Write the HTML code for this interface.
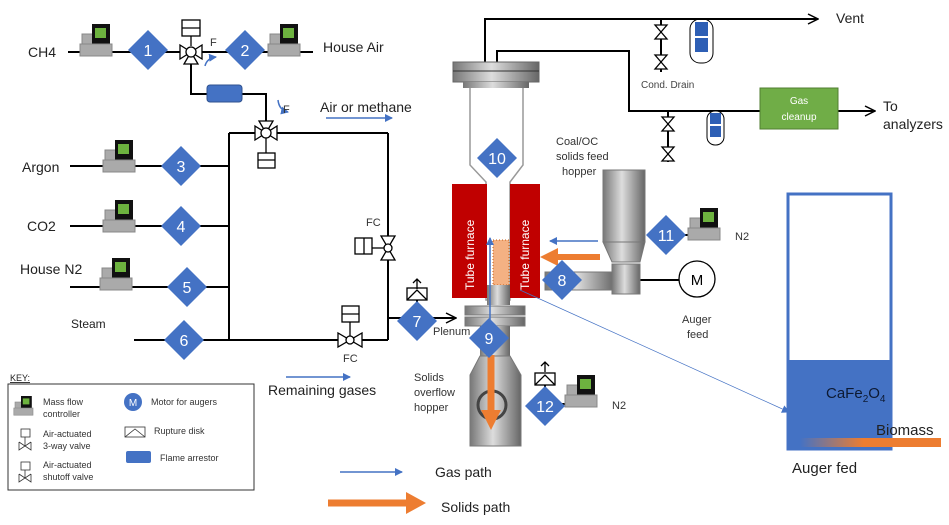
<!DOCTYPE html>
<html><head><meta charset="utf-8"><style>
body{margin:0;background:#fff;width:949px;height:525px;overflow:hidden}
svg{display:block;font-family:"Liberation Sans",sans-serif}
.t{font-size:14px;fill:#222}
.s{font-size:11px;fill:#333}
.dn{font-size:16px;fill:#fff;text-anchor:middle}
</style></head><body>
<svg width="949" height="525" viewBox="0 0 949 525">
<defs>
<g id="mfc"><rect x="0" y="10" width="16" height="12" fill="#aaa" stroke="#888"/><rect x="10" y="0" width="18" height="21" fill="#111"/><rect x="13" y="4" width="11" height="10" fill="#6db33f"/><rect x="-2" y="20" width="32" height="12" fill="#aaa" stroke="#888"/></g>
<g id="dia"><polygon points="0,-20 20,0 0,20 -20,0" fill="#4472c4"/></g>
<linearGradient id="steel" x1="0" x2="1"><stop offset="0" stop-color="#777"/><stop offset="0.45" stop-color="#ddd"/><stop offset="1" stop-color="#666"/></linearGradient>
<linearGradient id="bio" x1="0" x2="1"><stop offset="0" stop-color="#4472c4"/><stop offset="0.45" stop-color="#ed7d31"/><stop offset="1" stop-color="#ed7d31"/></linearGradient>
<marker id="ab" markerWidth="8" markerHeight="8" refX="7" refY="4" orient="auto" markerUnits="userSpaceOnUse"><path d="M0,0 L8,4 L0,8 z" fill="#4472c4"/></marker>
<marker id="ak" markerWidth="12" markerHeight="12" refX="11" refY="6" orient="auto" markerUnits="userSpaceOnUse"><path d="M1,1 L11,6 L1,11" fill="none" stroke="#000" stroke-width="1.5"/></marker>
</defs>
<g stroke="#000" stroke-width="2" fill="none">
<!-- row1 -->
<line x1="68" y1="52" x2="313" y2="52"/>
<polyline points="191,52 191,94 266,94 266,133"/>
<line x1="229" y1="133" x2="388" y2="133"/>
<line x1="229" y1="133" x2="229" y2="340"/>
<line x1="388" y1="133" x2="388" y2="340"/>
<line x1="70" y1="166" x2="229" y2="166"/>
<line x1="70" y1="226" x2="229" y2="226"/>
<line x1="70" y1="287" x2="229" y2="287"/>
<line x1="134" y1="340" x2="388" y2="340"/>
<line x1="388" y1="318" x2="456" y2="318" marker-end="url(#ak)"/>
<!-- outlets -->
<polyline points="485,118 485,19 818,19" marker-end="url(#ak)"/>
<polyline points="497,118 497,51 629,51 629,111 875,111" marker-end="url(#ak)"/>
<line x1="661" y1="19" x2="661" y2="72"/>
<line x1="668" y1="111" x2="668" y2="162"/>
<line x1="640" y1="280" x2="680" y2="280"/>
<line x1="528" y1="404" x2="568" y2="404"/>
<line x1="690" y1="235" x2="655" y2="235"/>
<line x1="545" y1="385" x2="545" y2="404"/>
<line x1="417" y1="300" x2="417" y2="318"/>
</g>
<!-- valves -->
<g stroke="#000" stroke-width="1.3" fill="#fff">
<polygon points="180,45 180,59 191,52"/><polygon points="202,45 202,59 191,52"/><polygon points="184,64 198,64 191,52"/><circle cx="191" cy="52" r="5"/>
<rect x="182" y="20" width="18" height="16"/><line x1="182" y1="28" x2="200" y2="28"/><line x1="191" y1="36" x2="191" y2="46"/>
<polygon points="255,126 255,140 266,133"/><polygon points="277,126 277,140 266,133"/><polygon points="259,121 273,121 266,133"/><circle cx="266" cy="133" r="5"/>
<rect x="258" y="153" width="17" height="15"/><line x1="258" y1="160" x2="275" y2="160"/><line x1="266" y1="138" x2="266" y2="153"/>
<polygon points="381,236 395,236 388,248"/><polygon points="381,260 395,260 388,248"/><circle cx="388" cy="248" r="4"/>
<rect x="355" y="238" width="17" height="16"/><line x1="364" y1="238" x2="364" y2="254"/><line x1="372" y1="248" x2="384" y2="248"/>
<polygon points="338,333 338,347 350,340"/><polygon points="362,333 362,347 350,340"/><circle cx="350" cy="340" r="4"/>
<rect x="342" y="306" width="17" height="16"/><line x1="342" y1="314" x2="359" y2="314"/><line x1="350" y1="322" x2="350" y2="336"/>
<polygon points="655,25 667,25 661,32 655,39 667,39 661,32"/><polygon points="655,55 667,55 661,62 655,69 667,69 661,62"/>
<polygon points="662,117 674,117 668,124 662,131 674,131 668,124"/><polygon points="662,147 674,147 668,154 662,161 674,161 668,154"/>
<rect x="407" y="288" width="20" height="12"/><polyline points="407,300 417,290 427,300" fill="none"/>
<rect x="535" y="373" width="20" height="12"/><polyline points="535,385 545,375 555,385" fill="none"/>
</g>
<g stroke="#000" stroke-width="1.3" fill="none"><path d="M417,289 V279 M413,283 L417,279 L421,283"/><path d="M545,372 V362 M541,366 L545,362 L549,366"/></g>
<rect x="207" y="85" width="35" height="17" rx="3" fill="#4472c4" stroke="#2f528f"/>
<path d="M205,66 Q207,58 216,57" stroke="#4472c4" fill="none" stroke-width="1.5" marker-end="url(#ab)"/>
<path d="M278,100 Q279,110 288,112" stroke="#4472c4" fill="none" stroke-width="1.5" marker-end="url(#ab)"/>
<text x="210" y="46" class="s">F</text><text x="283" y="113" class="s">F</text>
<text x="366" y="226" class="s">FC</text><text x="343" y="362" class="s">FC</text>
<!-- MFCs -->
<use href="#mfc" x="82" y="24"/><use href="#mfc" x="270" y="24"/><use href="#mfc" x="105" y="140"/><use href="#mfc" x="105" y="200"/><use href="#mfc" x="102" y="258"/><use href="#mfc" x="690" y="208"/><use href="#mfc" x="567" y="375"/>
<!-- reactor -->
<rect x="453" y="62" width="86" height="20" fill="url(#steel)" stroke="#666"/><line x1="453" y1="71" x2="539" y2="71" stroke="#333"/>
<rect x="463" y="82" width="66" height="6" fill="url(#steel)"/>
<path d="M470,88 V165 L486,182 V300 H510 V182 L523,165 V88" fill="#fff" stroke="#999" stroke-width="1.5"/>
<rect x="452" y="184" width="35" height="114" fill="#c00000"/><rect x="510" y="184" width="30" height="114" fill="#c00000"/>
<text transform="translate(474,290) rotate(-90)" font-size="12" fill="#fff">Tube furnace</text>
<text transform="translate(529,290) rotate(-90)" font-size="12" fill="#fff">Tube furnace</text>
<rect x="493" y="240" width="16" height="45" fill="#f4b183" stroke="#c55a11" stroke-dasharray="1,2"/>
<rect x="487" y="285" width="23" height="20" fill="url(#steel)"/>
<rect x="465" y="306" width="60" height="9" fill="url(#steel)" stroke="#777"/><rect x="465" y="317" width="60" height="9" fill="url(#steel)" stroke="#777"/>
<rect x="480" y="326" width="30" height="30" fill="url(#steel)"/>
<path d="M480,356 L470,375 V446 H521 V375 L510,356 Z" fill="url(#steel)" stroke="#777"/>
<circle cx="492" cy="405" r="14" fill="none" stroke="#444" stroke-width="3"/>
<line x1="490" y1="345" x2="490" y2="238" stroke="#4472c4" stroke-width="1.5" marker-end="url(#ab)"/>
<line x1="491" y1="355" x2="491" y2="412" stroke="#ed7d31" stroke-width="7"/><polygon points="481,410 501,410 491,430" fill="#ed7d31"/>
<!-- feed -->
<rect x="603" y="170" width="42" height="72" fill="url(#steel)" stroke="#777"/>
<path d="M603,242 H645 L640,262 H612 Z" fill="url(#steel)" stroke="#777"/>
<rect x="545" y="272" width="70" height="18" fill="url(#steel)" stroke="#777"/>
<rect x="612" y="264" width="28" height="30" fill="url(#steel)" stroke="#777"/>
<circle cx="697" cy="279" r="18" fill="#fff" stroke="#000" stroke-width="1.3"/><text x="697" y="285" font-size="15" text-anchor="middle">M</text>
<line x1="598" y1="241" x2="550" y2="241" stroke="#4472c4" stroke-width="1.5" marker-end="url(#ab)"/>
<line x1="600" y1="257" x2="556" y2="257" stroke="#ed7d31" stroke-width="6"/><polygon points="558,248 558,266 540,257" fill="#ed7d31"/>
<line x1="520" y1="290" x2="789" y2="412" stroke="#4472c4" stroke-width="0.7" marker-end="url(#ab)"/>
<!-- pots -->
<rect x="690" y="19" width="23" height="44" rx="10" fill="#fff" stroke="#000"/><rect x="695" y="22" width="13" height="14" fill="#2e5fb5"/><rect x="695" y="38" width="13" height="14" fill="#2e5fb5"/>
<line x1="685" y1="19" x2="718" y2="19" stroke="#000" stroke-width="2"/>
<rect x="707" y="111" width="17" height="34" rx="8" fill="#fff" stroke="#000"/><rect x="710" y="113" width="11" height="11" fill="#2e5fb5"/><rect x="710" y="126" width="11" height="11" fill="#2e5fb5"/>
<rect x="760" y="88" width="78" height="41" fill="#70ad47" stroke="#507e32"/>
<text x="799" y="104" font-size="10" fill="#fff" text-anchor="middle">Gas</text><text x="799" y="120" font-size="10" fill="#fff" text-anchor="middle">cleanup</text>
<!-- diamonds -->
<use href="#dia" x="148" y="50"/><text x="148" y="56" class="dn">1</text>
<use href="#dia" x="245" y="50"/><text x="245" y="56" class="dn">2</text>
<use href="#dia" x="181" y="166"/><text x="181" y="172" class="dn">3</text>
<use href="#dia" x="181" y="226"/><text x="181" y="232" class="dn">4</text>
<use href="#dia" x="187" y="287"/><text x="187" y="293" class="dn">5</text>
<use href="#dia" x="184" y="340"/><text x="184" y="346" class="dn">6</text>
<use href="#dia" x="417" y="321"/><text x="417" y="327" class="dn">7</text>
<use href="#dia" x="562" y="280"/><text x="562" y="286" class="dn">8</text>
<use href="#dia" x="489" y="338"/><text x="489" y="344" class="dn">9</text>
<use href="#dia" x="497" y="158"/><text x="497" y="164" class="dn">10</text>
<use href="#dia" x="666" y="235"/><text x="666" y="241" class="dn">11</text>
<use href="#dia" x="545" y="406"/><text x="545" y="412" class="dn">12</text>
<!-- right box -->
<rect x="788" y="194" width="103" height="255" fill="#fff" stroke="#4472c4" stroke-width="3"/>
<rect x="788" y="360" width="103" height="89" fill="#4472c4"/>
<text x="826" y="398" font-size="15" fill="#0d1a33">CaFe<tspan font-size="10" dy="4">2</tspan><tspan dy="-4">O</tspan><tspan font-size="10" dy="4">4</tspan></text>
<rect x="800" y="438" width="141" height="9" fill="url(#bio)"/>
<text x="876" y="435" font-size="15" fill="#222">Biomass</text>
<text x="792" y="473" font-size="15" fill="#222">Auger fed</text>
<!-- labels -->
<text x="28" y="57" class="t">CH4</text><text x="323" y="52" class="t">House Air</text>
<text x="320" y="112" class="t">Air or methane</text>
<line x1="326" y1="118" x2="392" y2="118" stroke="#4472c4" stroke-width="1.5" marker-end="url(#ab)"/>
<text x="22" y="172" class="t">Argon</text><text x="27" y="231" class="t">CO2</text><text x="20" y="274" class="t">House N2</text>
<text x="71" y="328" font-size="12" fill="#222">Steam</text>
<line x1="286" y1="377" x2="350" y2="377" stroke="#4472c4" stroke-width="1.5" marker-end="url(#ab)"/>
<text x="268" y="395" class="t">Remaining gases</text>
<text x="433" y="335" class="s">Plenum</text>
<text x="414" y="381" class="s">Solids</text><text x="414" y="396" class="s">overflow</text><text x="414" y="411" class="s">hopper</text>
<text x="612" y="409" class="s">N2</text><text x="735" y="240" class="s">N2</text>
<text x="556" y="145" class="s">Coal/OC</text><text x="556" y="160" class="s">solids feed</text><text x="562" y="175" class="s">hopper</text>
<text x="682" y="323" class="s">Auger</text><text x="687" y="338" class="s">feed</text>
<text x="641" y="88" font-size="10" fill="#444">Cond. Drain</text>
<text x="836" y="23" class="t">Vent</text><text x="883" y="111" class="t">To</text><text x="883" y="129" class="t">analyzers</text>
<line x1="340" y1="472" x2="402" y2="472" stroke="#4472c4" stroke-width="1.5" marker-end="url(#ab)"/>
<text x="435" y="477" class="t">Gas path</text>
<line x1="328" y1="503" x2="410" y2="503" stroke="#ed7d31" stroke-width="7"/><polygon points="406,492 406,514 426,503" fill="#ed7d31"/>
<text x="441" y="512" class="t">Solids path</text>
<!-- key -->
<text x="10" y="381" font-size="9" fill="#222" text-decoration="underline">KEY:</text>
<rect x="8" y="384" width="246" height="106" fill="#fff" stroke="#333"/>
<g transform="translate(15,396) scale(0.6)"><use href="#mfc"/></g>
<text x="43" y="405" font-size="9" fill="#333">Mass flow</text><text x="43" y="417" font-size="9" fill="#333">controller</text>
<text x="43" y="437" font-size="9" fill="#333">Air-actuated</text><text x="43" y="449" font-size="9" fill="#333">3-way valve</text>
<text x="43" y="468" font-size="9" fill="#333">Air-actuated</text><text x="43" y="480" font-size="9" fill="#333">shutoff valve</text>
<g stroke="#333" fill="#fff" stroke-width="0.8"><rect x="21" y="429" width="9" height="8"/><path d="M25,437 V446 M19,442 V450 L25,446 L19,442 M31,442 V450 L25,446 L31,442"/><rect x="21" y="462" width="9" height="8"/><path d="M25,470 V478 M19,474 V482 L25,478 L19,474 M31,474 V482 L25,478 L31,474"/>
<rect x="125" y="427" width="20" height="10"/><polyline points="125,437 135,429 145,437" fill="none"/></g>
<circle cx="133" cy="402" r="9" fill="#4472c4"/><text x="133" y="406" font-size="10" fill="#fff" text-anchor="middle">M</text>
<text x="151" y="405" font-size="9" fill="#333">Motor for augers</text>
<text x="154" y="434" font-size="9" fill="#333">Rupture disk</text>
<rect x="126" y="451" width="25" height="12" rx="2" fill="#4472c4"/>
<text x="160" y="461" font-size="9" fill="#333">Flame arrestor</text>
</g>
</svg>
</body></html>
